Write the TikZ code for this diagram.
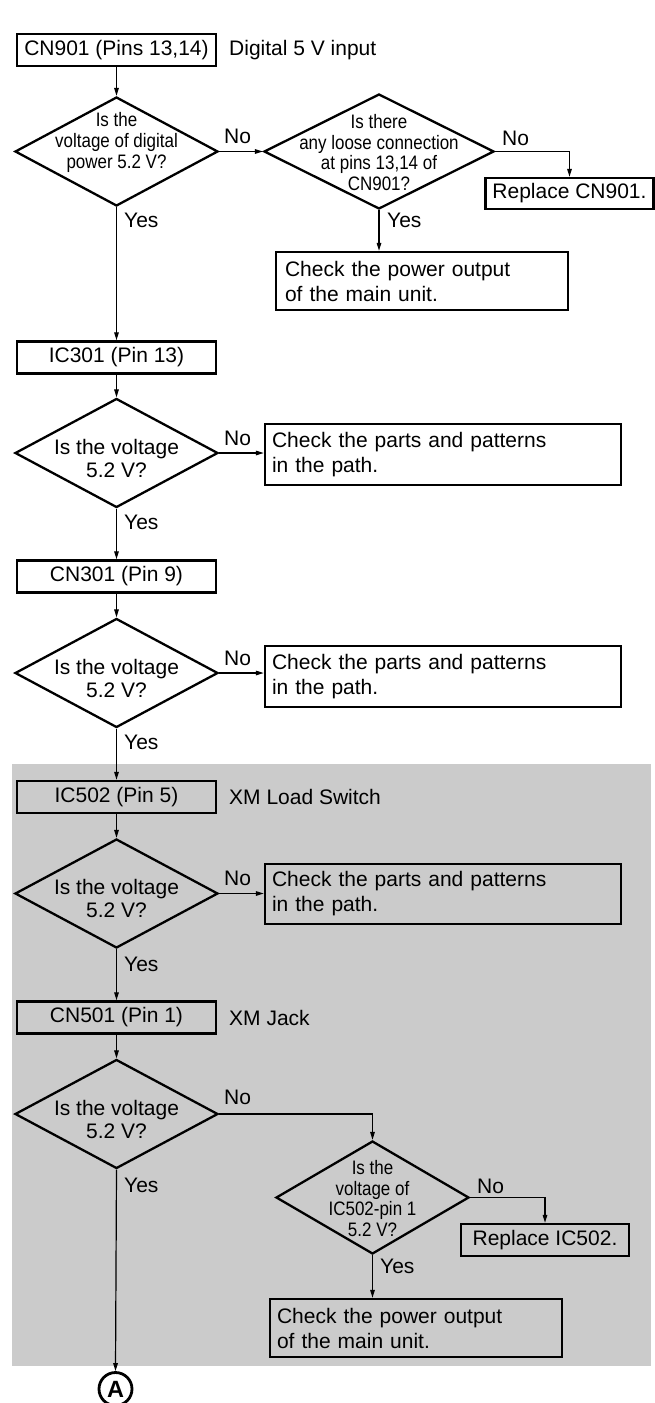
\documentclass[tikz,border=0pt]{standalone}
\usepackage{fontspec}
\setmainfont{Liberation Sans}
\newfontfamily\narrowfont[FakeStretch=0.87]{Liberation Sans}
\usetikzlibrary{shapes.geometric,arrows.meta,calc}
\definecolor{panel}{RGB}{203,203,203}
\tikzset{
  box/.style={draw, line width=2.5pt, rectangle, inner sep=0pt,
    minimum width=199pt, minimum height=32pt, font=\fontsize{21}{25}\selectfont},
  tbox/.style={draw, line width=2.5pt, rectangle, inner ysep=0pt, align=left,
    font=\fontsize{21}{25}\selectfont},
  dia/.style={draw, line width=2.3pt, diamond, inner sep=0pt,
    minimum width=203pt, minimum height=109pt},
  ntext/.style={inner sep=0pt, align=center, font=\narrowfont\fontsize{19.5}{20.8}\selectfont},
  wtext/.style={inner sep=0pt, align=center, font=\fontsize{21}{23}\selectfont},
  lab/.style={inner sep=0pt, anchor=west, font=\fontsize{21}{25}\selectfont},
  circ/.style={draw, circle, line width=2.8pt, inner sep=0pt, minimum size=33pt,
    font=\bfseries\fontsize{23.5}{23.5}\selectfont},
  conn/.style={line width=1.2pt, -{Triangle[length=8pt,width=4.6pt]}}
}
\begin{document}
\begin{tikzpicture}[x=1pt,y=-1pt]
\useasboundingbox (0,0) rectangle (655,1403);
\fill[panel] (12,764) rectangle (651,1366);

% top section
\node[box] (b1) at (116.5,50) {CN901 (Pins 13,14)};
\node[lab] (l1) at (229,50) {Digital 5 V input};
\node[dia] (q1) at (116.5,151.5) {};
\node[ntext] (q1t) at (116.5,142.5) {Is the\\voltage of digital\\power 5.2 V?};
\node[dia, minimum width=230pt, minimum height=115pt] (q2) at (379,151.5) {};
\node[ntext] (q2t) at (379,152.5) {Is there\\any loose connection\\at pins 13,14 of\\CN901?};
\node[box, minimum width=168pt, minimum height=31pt] (r1) at (569.5,193.5) {Replace CN901.};
\node[tbox, minimum height=58pt, text width=274pt, inner xsep=9pt] (c1) at (422,281) {Check the power output\\of the main unit.};

% IC301
\node[box] (b2) at (116.5,357.5) {IC301 (Pin 13)};
\node[dia] (q3) at (116.5,453) {};
\node[wtext] (q3t) at (116.5,458) {Is the voltage\\5.2 V?};
\node[tbox, minimum height=61pt, text width=342pt, inner xsep=7pt] (c2) at (443,454.5) {Check the parts and patterns\\in the path.};

% CN301
\node[box] (b3) at (116.5,576.5) {CN301 (Pin 9)};
\node[dia] (q4) at (116.5,673) {};
\node[wtext] (q4t) at (116.5,678) {Is the voltage\\5.2 V?};
\node[tbox, minimum height=61pt, text width=342pt, inner xsep=7pt] (c3) at (443,676.5) {Check the parts and patterns\\in the path.};

% IC502
\node[box] (b4) at (116.5,797) {IC502 (Pin 5)};
\node[lab] (l2) at (229,797) {XM Load Switch};
\node[dia] (q5) at (116.5,893.5) {};
\node[wtext] (q5t) at (116.5,898.5) {Is the voltage\\5.2 V?};
\node[tbox, minimum height=60pt, text width=342pt, inner xsep=7pt] (c4) at (443,894) {Check the parts and patterns\\in the path.};

% CN501
\node[box] (b5) at (116.5,1017.5) {CN501 (Pin 1)};
\node[lab] (l3) at (229,1018) {XM Jack};
\node[dia] (q6) at (116.5,1114) {};
\node[wtext] (q6t) at (116.5,1119) {Is the voltage\\5.2 V?};
\node[dia, minimum width=193pt, minimum height=113pt] (q7) at (372.5,1197.5) {};
\node[ntext] (q7t) at (372.5,1198.5) {Is the\\voltage of\\IC502-pin 1\\5.2 V?};
\node[box, minimum width=168pt, minimum height=32pt] (r2) at (545,1240) {Replace IC502.};
\node[tbox, minimum height=58pt, text width=278pt, inner xsep=7pt] (c5) at (416,1328) {Check the power output\\of the main unit.};
\node[circ] (A) at (115.5,1389) {A};

% connectors
\draw[conn] (b1.south) -- (q1.north);
\draw[conn] (q1.east) -- (q2.west);
\draw[conn] (q2.east) -| (r1.north);
\draw[conn] (q2.south) -- (q2.south |- c1.north);
\draw[conn] (q1.south) -- (b2.north);
\draw[conn] (b2.south) -- (q3.north);
\draw[conn] (q3.east) -- (q3.east -| c2.west);
\draw[conn] (q3.south) -- (b3.north);
\draw[conn] (b3.south) -- (q4.north);
\draw[conn] (q4.east) -- (q4.east -| c3.west);
\draw[conn] (q4.south) -- (b4.north);
\draw[conn] (b4.south) -- (q5.north);
\draw[conn] (q5.east) -- (q5.east -| c4.west);
\draw[conn] (q5.south) -- (b5.north);
\draw[conn] (b5.south) -- (q6.north);
\draw[conn] (q6.east) -| (q7.north);
\draw[conn] (q7.east) -| (r2.north);
\draw[conn] (q7.south) -- (q7.south |- c5.north);
\draw[conn] (q6.south) -- (A.north);

% Yes / No labels
\node[lab] (n1) at (224,136) {No};
\node[lab] (y1) at (124,220) {Yes};
\node[lab] (n2) at (502,138) {No};
\node[lab] (y2) at (387,220) {Yes};
\node[lab] (n3) at (224,438) {No};
\node[lab] (y3) at (124,522) {Yes};
\node[lab] (n4) at (224,658) {No};
\node[lab] (y4) at (124,742) {Yes};
\node[lab] (n5) at (224,878) {No};
\node[lab] (y5) at (124,964) {Yes};
\node[lab] (n6) at (224,1097) {No};
\node[lab] (y6) at (124,1185) {Yes};
\node[lab] (n7) at (477,1186) {No};
\node[lab] (y7) at (380,1266) {Yes};
\end{tikzpicture}
\end{document}
